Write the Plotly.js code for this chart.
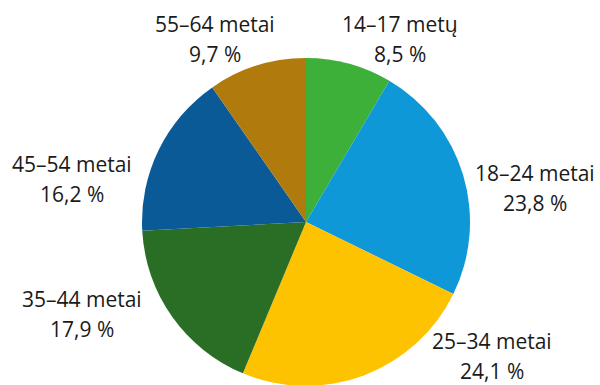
<!DOCTYPE html>
<html>
<head>
<meta charset="utf-8">
<script src="https://cdn.plot.ly/plotly-3.0.1.min.js"></script>
<style>html,body{margin:0;padding:0;background:#fff;overflow:hidden}</style>
</head>
<body>
<div id="chart" style="width:600px;height:390px"></div>
<script>
const categories = ["14–17 metų", "18–24 metai", "25–34 metai", "35–44 metai", "45–54 metai", "55–64 metai"];
const values = [8.5, 23.8, 24.1, 17.9, 16.2, 9.7];
const valueLabels = ["8,5 %", "23,8 %", "24,1 %", "17,9 %", "16,2 %", "9,7 %"];
const colors = ["#3db03a", "#0f98d8", "#fdc300", "#2a6e26", "#0b5a98", "#b07a0c"];

// label centre positions (pixels) - layout only
const labelPos = [[400, 39], [535, 188], [492, 356], [82, 314], [72, 179], [215, 39]];
const lineGap = 30;

const W = 600, H = 390;
const font = {family: "Open Sans", size: 21, color: "#1a1a1a"};
const annotations = [];
categories.forEach((c, i) => {
  [c, valueLabels[i]].forEach((t, k) => {
    annotations.push({
      text: t,
      x: labelPos[i][0] / W,
      y: 1 - (labelPos[i][1] + (k === 0 ? -lineGap / 2 : lineGap / 2)) / H,
      xref: "paper", yref: "paper",
      xanchor: "center", yanchor: "middle",
      showarrow: false,
      font: font
    });
  });
});

Plotly.newPlot("chart", [{
  type: "pie",
  labels: categories,
  values: values,
  sort: false,
  direction: "clockwise",
  rotation: 0,
  textinfo: "none",
  hoverinfo: "none",
  marker: {colors: colors, line: {width: 0}},
  domain: {x: [142 / W, 470 / W], y: [(H - 386) / H, (H - 58) / H]},
  showlegend: false
}], {
  width: W, height: H,
  margin: {l: 0, r: 0, t: 0, b: 0},
  paper_bgcolor: "#fff",
  annotations: annotations
}, {staticPlot: true});
</script>
</body>
</html>
